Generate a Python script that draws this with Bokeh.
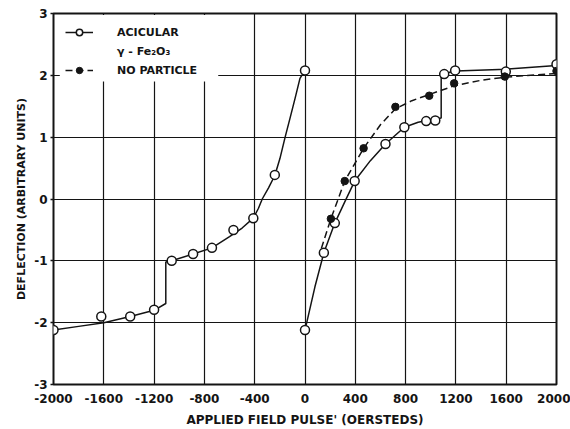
from bokeh.plotting import figure
from bokeh.models import FixedTicker, Legend, LegendItem, Range1d, BoxAnnotation
from bokeh.embed import file_html
from bokeh.resources import INLINE

# ---- data ----
x_ticks = [-2000, -1600, -1200, -800, -400, 0, 400, 800, 1200, 1600, 2000]
y_ticks = [-3, -2, -1, 0, 1, 2, 3]

# Acicular gamma-Fe2O3 : measured points (open circles)
acic_pts_x = [-2000, -1620, -1390, -1200, -1060, -890, -740, -569, -411, -240, 0,
              0, 150, 237, 395, 640, 790, 964, 1036, 1107, 1194, 1597, 2000]
acic_pts_y = [-2.12, -1.90, -1.90, -1.79, -1.00, -0.89, -0.79, -0.50, -0.31, 0.39, 2.08,
              -2.12, -0.87, -0.39, 0.29, 0.89, 1.16, 1.26, 1.27, 2.02, 2.08, 2.06, 2.18]

# Acicular drawn curve, negative-field branch
acic_neg_x = [-2000, -1800, -1600, -1390, -1200, -1107, -1107, -1060, -890, -740,
              -600, -500, -411, -370, -340, -290, -240, -200, -158, -120, -80, -40, 0]
acic_neg_y = [-2.12, -2.06, -2.00, -1.90, -1.80, -1.69, -1.02, -1.00, -0.89, -0.79,
              -0.61, -0.47, -0.31, -0.15, 0.00, 0.18, 0.38, 0.65, 1.00, 1.30, 1.62, 1.95, 2.08]

# Acicular drawn curve, positive-field branch
acic_pos_x = [0, 79, 150, 237, 320, 395, 520, 640, 790, 900, 1000, 1083, 1083,
              1200, 1600, 2000]
acic_pos_y = [-2.12, -1.42, -0.87, -0.39, -0.03, 0.29, 0.62, 0.89, 1.16, 1.24, 1.28, 1.31, 2.02,
              2.07, 2.10, 2.16]

# No particle : measured points (filled circles)
nopart_pts_x = [206, 316, 466, 719, 988, 1186, 1589, 2000]
nopart_pts_y = [-0.32, 0.29, 0.82, 1.49, 1.67, 1.87, 1.98, 2.07]

# No particle drawn dashed curve
nopart_curve_x = [130, 206, 316, 466, 600, 719, 850, 988, 1186, 1400, 1589, 2000]
nopart_curve_y = [-0.80, -0.32, 0.29, 0.82, 1.20, 1.46, 1.59, 1.69, 1.83, 1.92, 1.97, 2.03]

INK = "#141414"
FONT = "DejaVu Sans"

p = figure(width=570, height=429, output_backend="svg", toolbar_location=None,
           x_range=Range1d(-2000, 2000), y_range=Range1d(-3, 3),
           min_border_left=53, min_border_right=14, min_border_top=13,
           min_border_bottom=44)
p.background_fill_color = "white"
p.border_fill_color = "white"
p.outline_line_color = INK
p.outline_line_width = 2

# axes
p.xaxis.ticker = FixedTicker(ticks=x_ticks)
p.yaxis.ticker = FixedTicker(ticks=y_ticks)
p.xaxis.major_label_overrides = {t: str(t) for t in x_ticks}
p.yaxis.major_label_overrides = {t: str(t) for t in y_ticks}
for ax in (p.xaxis[0], p.yaxis[0]):
    ax.axis_line_color = None
    ax.major_tick_line_color = INK
    ax.major_tick_line_width = 1.5
    ax.major_tick_in = 0
    ax.minor_tick_line_color = None
    ax.major_label_text_font = FONT
    ax.major_label_text_font_style = "bold"
    ax.major_label_text_font_size = "12px"
    ax.major_label_text_color = INK
    ax.axis_label_text_font = FONT
    ax.axis_label_text_font_style = "bold"
    ax.axis_label_text_color = INK
p.xaxis.axis_label_text_font_size = "12px"
p.yaxis.axis_label_text_font_size = "11px"
p.xaxis.major_tick_out = 0
p.yaxis.major_tick_out = 3
p.xaxis.major_label_standoff = 9
p.yaxis.major_label_standoff = 3
p.xaxis.axis_label = "APPLIED FIELD PULSE' (OERSTEDS)"
p.yaxis.axis_label = "DEFLECTION (ARBITRARY UNITS)"
p.xaxis.axis_label_standoff = 7
p.yaxis.axis_label_standoff = 3

# grid
p.xgrid.ticker = FixedTicker(ticks=x_ticks)
p.ygrid.ticker = FixedTicker(ticks=y_ticks)
for g in (p.xgrid[0], p.ygrid[0]):
    g.grid_line_color = INK
    g.grid_line_width = 1.2

# curves and points
r_acic_neg = p.line(acic_neg_x, acic_neg_y, line_color=INK, line_width=1.5)
r_acic_pos = p.line(acic_pos_x, acic_pos_y, line_color=INK, line_width=1.5)
r_nop_line = p.line(nopart_curve_x, nopart_curve_y, line_color=INK, line_width=1.5,
                    line_dash="7 4")
r_acic_pts = p.scatter(acic_pts_x, acic_pts_y, marker="circle", size=9,
                       fill_color="white", line_color=INK, line_width=1.5)
r_nop_pts = p.scatter(nopart_pts_x, nopart_pts_y, marker="circle", size=7.5,
                      fill_color=INK, line_color=INK)
r_dummy = p.line([], [], line_alpha=0)

# white patch behind the legend (hides the grid there, as in the original)
p.add_layout(BoxAnnotation(left=-1950, right=-690, top=2.975, bottom=1.9,
                           fill_color="white", fill_alpha=1, line_color=None))

legend = Legend(items=[
    LegendItem(label="ACICULAR", renderers=[r_acic_neg, r_acic_pts]),
    LegendItem(label="γ - Fe₂O₃", renderers=[r_dummy]),
    LegendItem(label="NO PARTICLE", renderers=[r_nop_line, r_nop_pts]),
], location=(12, 306))
legend.margin = 0
legend.padding = 0
legend.spacing = 3
legend.label_height = 16
legend.glyph_height = 16
legend.glyph_width = 28
legend.label_standoff = 24
legend.border_line_color = None
legend.background_fill_color = "white"
legend.background_fill_alpha = 1
legend.label_text_font = FONT
legend.label_text_font_style = "bold"
legend.label_text_font_size = "11px"
legend.label_text_color = INK
p.add_layout(legend)

open("out.html", "w").write(file_html(p, INLINE))
